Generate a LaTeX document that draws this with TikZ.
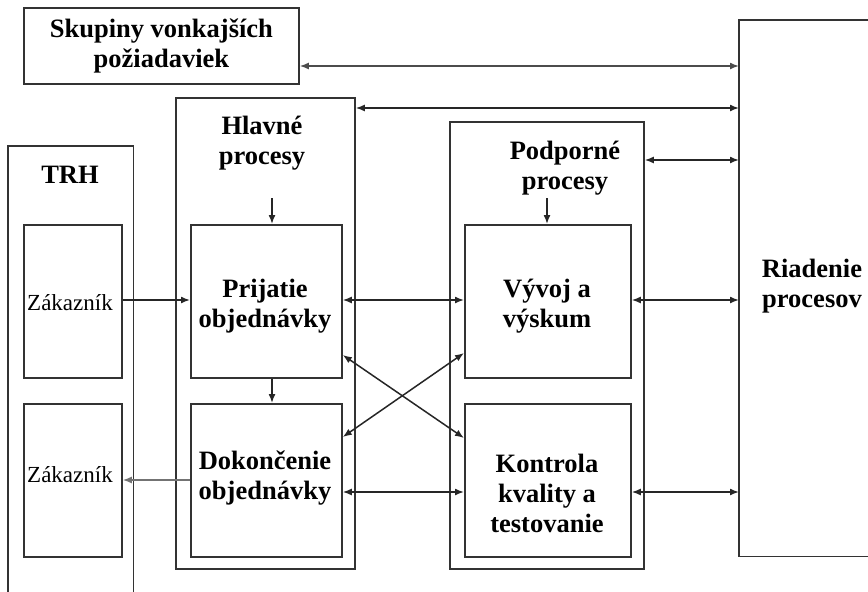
\documentclass[tikz,border=0pt]{standalone}
\usepackage{fontspec}
\setmainfont{Liberation Serif}
\usetikzlibrary{arrows.meta,calc}
\begin{document}
\begin{tikzpicture}[x=1pt,y=-1pt,
  frame/.style={draw=black!80, line width=1.8pt, inner sep=0pt, anchor=north west},
  ghost/.style={inner sep=0pt, anchor=north west},
  lbl/.style={font=\fontsize{26.5}{30}\selectfont\bfseries, align=center, inner sep=0pt},
  zlbl/.style={font=\fontsize{23}{27}\selectfont, align=center, inner sep=0pt},
  arr/.style={line width=1.5pt, draw=black!85, -{Latex[length=9pt,width=7pt]}},
  darr/.style={line width=1.5pt, draw=black!85, {Latex[length=9pt,width=7pt]}-{Latex[length=9pt,width=7pt]}},
]
\useasboundingbox (0,0) rectangle (868,592);

% outer frames
\node[frame, minimum width=275pt, minimum height=76pt, lbl] (sk) at (23,7) {Skupiny vonkajších\\požiadaviek};
\node[frame, minimum width=179pt, minimum height=471pt] (hl) at (175,97) {};
\node[frame, minimum width=194pt, minimum height=447pt] (po) at (449,121) {};
\node[ghost, minimum width=125pt, minimum height=446pt] (trh) at (8,146) {};
\draw[draw=black!80, line width=1.8pt] (trh.south west) -- (trh.north west) -- (trh.north east) -- (trh.south east);
\node[ghost, minimum width=146pt, minimum height=536pt] (riad) at (739,20) {};
\draw[draw=black!80, line width=1.8pt] (riad.north east) -- (riad.north west) -- (riad.south west) -- (riad.south east);

% inner boxes
\node[frame, minimum width=98pt, minimum height=153pt] (z1) at (23,224) {};
\node[frame, minimum width=98pt, minimum height=153pt] (z2) at (23,403) {};
\node[frame, minimum width=151pt, minimum height=153pt] (prij) at (190,224) {};
\node[frame, minimum width=151pt, minimum height=153pt] (dok) at (190,403) {};
\node[frame, minimum width=166pt, minimum height=153pt] (vyv) at (464,224) {};
\node[frame, minimum width=166pt, minimum height=153pt] (kon) at (464,403) {};

% labels
\node[lbl] (ttrh) at (70,175) {TRH};
\node[lbl] (thl) at (262,143) {Hlavné\\procesy};
\node[lbl] (tpo) at (565,168) {Podporné\\procesy};
\node[zlbl] (tz1) at (70,303) {Zákazník};
\node[zlbl] (tz2) at (70,475) {Zákazník};
\node[lbl] (tprij) at (265,306) {Prijatie\\objednávky};
\node[lbl] (tdok) at (265,478) {Dokončenie\\objednávky};
\node[lbl] (tvyv) at (547,306) {Vývoj a\\výskum};
\node[lbl] (tkon) at (547,493) {Kontrola\\kvality a\\testovanie};
\node[lbl] (triad) at (812,286) {Riadenie\\procesov};

% connectors
\draw[darr, draw=black!70] (sk.east |- 0,66) -- (riad.west |- 0,66);
\draw[darr] (hl.east |- 0,108) -- (riad.west |- 0,108);
\draw[darr] (po.east |- 0,160) -- (riad.west |- 0,160);
\draw[arr] (prij.north -| 272,0) ++(0,-26) -- (prij.north -| 272,0);
\draw[arr] (vyv.north -| 547,0) ++(0,-26) -- (vyv.north -| 547,0);
\draw[arr] (z1.east |- 0,300) -- (prij.west |- 0,300);
\draw[darr] (prij.east |- 0,300) -- (vyv.west |- 0,300);
\draw[darr] (vyv.east |- 0,300) -- (riad.west |- 0,300);
\draw[arr] (prij.south -| 272,0) -- (dok.north -| 272,0);
\draw[arr, draw=black!55] (dok.west |- 0,480) -- (z2.east |- 0,480);
\draw[darr] (dok.east |- 0,492) -- (kon.west |- 0,492);
\draw[darr] (kon.east |- 0,492) -- (riad.west |- 0,492);
\draw[darr] (prij.east |- 0,355) -- (kon.west |- 0,438);
\draw[darr] (dok.east |- 0,437) -- (vyv.west |- 0,353);
\end{tikzpicture}
\end{document}
